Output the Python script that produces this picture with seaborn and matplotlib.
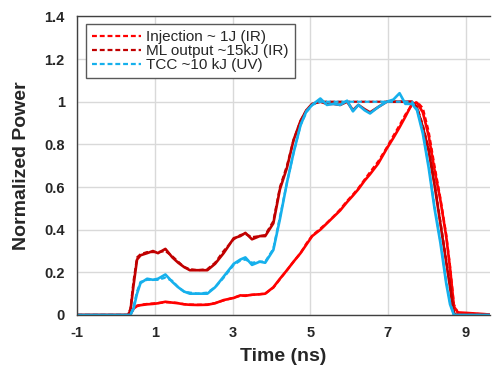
import matplotlib
matplotlib.use("Agg")
import matplotlib.pyplot as plt
import seaborn as sns

# shared time grid (ns)
time_ns = [-1, 0.3, 0.37, 0.45, 0.54, 0.63, 0.8, 0.95, 1.08, 1.27,
           1.45, 1.6, 1.75, 1.9, 2.1, 2.35, 2.55, 2.77, 3.03, 3.2,
           3.33, 3.5, 3.7, 3.84, 4.05, 4.22, 4.4, 4.57, 4.75, 4.9,
           5.05, 5.26, 5.43, 5.6, 5.77, 5.95, 6.1, 6.24, 6.4, 6.54,
           6.75, 6.97, 7.14, 7.3, 7.45, 7.62, 7.75, 7.9, 8.05, 8.2,
           8.35, 8.5, 8.6, 8.7, 8.8, 9.0, 9.5, 9.7]

# Injection ~ 1J (IR)
inj_meas = [0, 0, 0.005, 0.03, 0.042, 0.046, 0.05, 0.052, 0.055, 0.062,
            0.058, 0.055, 0.05, 0.048, 0.047, 0.048, 0.055, 0.07, 0.08, 0.092,
            0.09, 0.095, 0.097, 0.10, 0.13, 0.17, 0.21, 0.25, 0.29, 0.33,
            0.37, 0.40, 0.43, 0.46, 0.49, 0.53, 0.56, 0.59, 0.63, 0.66,
            0.71, 0.78, 0.83, 0.88, 0.93, 0.99, 0.995, 0.95, 0.84, 0.68,
            0.54, 0.37, 0.22, 0.04, 0.012, 0.01, 0.004, 0]
inj_sim = [0, 0, 0.004, 0.028, 0.044, 0.048, 0.052, 0.054, 0.056, 0.06,
           0.059, 0.056, 0.051, 0.049, 0.048, 0.049, 0.056, 0.068, 0.082, 0.09,
           0.092, 0.094, 0.098, 0.10, 0.128, 0.168, 0.21, 0.25, 0.29, 0.335,
           0.372, 0.405, 0.432, 0.462, 0.495, 0.535, 0.565, 0.595, 0.635, 0.67,
           0.72, 0.785, 0.84, 0.89, 0.94, 0.985, 1.0, 0.97, 0.86, 0.7,
           0.55, 0.38, 0.23, 0.05, 0.01, 0.008, 0.003, 0]

# ML output ~15kJ (IR)
ml_meas = [0, 0, 0.02, 0.14, 0.26, 0.28, 0.29, 0.30, 0.29, 0.31,
           0.27, 0.245, 0.225, 0.21, 0.21, 0.21, 0.24, 0.29, 0.36, 0.37,
           0.385, 0.355, 0.37, 0.37, 0.43, 0.59, 0.69, 0.82, 0.91, 0.96,
           0.99, 1.0, 0.99, 0.99, 0.985, 1.0, 0.96, 0.985, 0.965, 0.95,
           0.975, 1.0, 1.0, 1.0, 1.0, 1.0, 0.97, 0.88, 0.77, 0.61,
           0.43, 0.25, 0.13, 0.005, 0, 0, 0, 0]
ml_sim = [0, 0, 0.03, 0.16, 0.27, 0.285, 0.295, 0.295, 0.295, 0.3,
          0.275, 0.25, 0.225, 0.215, 0.21, 0.215, 0.245, 0.3, 0.355, 0.375,
          0.38, 0.365, 0.37, 0.375, 0.44, 0.6, 0.7, 0.82, 0.91, 0.96,
          0.99, 1.0, 1.0, 1.0, 1.0, 1.0, 1.0, 1.0, 1.0, 1.0,
          1.0, 1.0, 1.0, 1.0, 1.0, 1.0, 0.975, 0.89, 0.78, 0.62,
          0.44, 0.26, 0.14, 0.01, 0, 0, 0, 0]

# TCC ~10 kJ (UV)
tcc_meas = [0, 0, 0, 0.03, 0.10, 0.15, 0.17, 0.165, 0.17, 0.19,
            0.155, 0.13, 0.11, 0.10, 0.10, 0.10, 0.13, 0.18, 0.24, 0.26,
            0.27, 0.235, 0.25, 0.245, 0.305, 0.45, 0.62, 0.76, 0.89, 0.955,
            0.985, 1.015, 0.985, 0.99, 0.985, 1.005, 0.955, 0.985, 0.96, 0.945,
            0.975, 1.0, 1.01, 1.04, 0.99, 0.99, 0.96, 0.85, 0.69, 0.50,
            0.34, 0.15, 0.05, 0, 0, 0, 0, 0]
tcc_sim = [0, 0, 0, 0.04, 0.11, 0.155, 0.165, 0.165, 0.165, 0.175,
           0.16, 0.13, 0.11, 0.105, 0.1, 0.105, 0.13, 0.175, 0.235, 0.255,
           0.26, 0.245, 0.25, 0.25, 0.31, 0.46, 0.62, 0.76, 0.89, 0.95,
           0.985, 1.0, 1.0, 1.0, 1.0, 1.0, 1.0, 1.0, 1.0, 1.0,
           1.0, 1.0, 1.0, 1.0, 1.0, 1.0, 0.965, 0.86, 0.7, 0.51,
           0.35, 0.16, 0.06, 0, 0, 0, 0, 0]

labels = ["Injection ~ 1J (IR)", "ML output ~15kJ (IR)", "TCC ~10 kJ (UV)"]
colors = ["#FF0000", "#C00000", "#16B0EC"]
x_ticks = [-1, 1, 3, 5, 7, 9]
y_ticks = [0, 0.2, 0.4, 0.6, 0.8, 1.0, 1.2, 1.4]
y_tick_labels = ["0", "0.2", "0.4", "0.6", "0.8", "1", "1.2", "1.4"]

sns.set_style("whitegrid")
plt.rcParams["font.family"] = ["Liberation Sans", "DejaVu Sans"]
plt.rcParams["axes.unicode_minus"] = False

fig = plt.figure(figsize=(4.92, 3.65), dpi=100)
ax = fig.add_axes([0.157, 0.137, 0.839, 0.818])

series = [(inj_meas, inj_sim), (ml_meas, ml_sim), (tcc_meas, tcc_sim)]
for (meas, sim), lab, col in zip(series, labels, colors):
    sns.lineplot(x=time_ns, y=sim, ax=ax, color=col, linestyle=(0, (2.2, 1.3)),
                 linewidth=1.6, label=lab)
    sns.lineplot(x=time_ns, y=meas, ax=ax, color=col, linewidth=1.9)

ax.set_xlim(-1, 9.63)
ax.set_ylim(0, 1.4)
ax.set_xticks(x_ticks)
ax.set_yticks(y_ticks)
ax.set_yticklabels(y_tick_labels)
ax.tick_params(axis="y", length=0, labelsize=10.5, pad=9)
ax.tick_params(axis="x", length=0, labelsize=10.5, pad=8)
for t in ax.get_xticklabels() + ax.get_yticklabels():
    t.set_fontweight("bold")
ax.set_xlabel("Time (ns)", fontsize=14, fontweight="bold", labelpad=6)
ax.set_ylabel("Normalized Power", fontsize=14, fontweight="bold", labelpad=10)
ax.grid(color="#D9D9D9", linewidth=1)
for side in ["left", "bottom", "top"]:
    ax.spines[side].set_color("#404040")
    ax.spines[side].set_linewidth(1)
ax.spines["right"].set_visible(False)

# legend shows the dashed entries only
h, l = ax.get_legend_handles_labels()
leg = ax.legend(h[:3], l[:3], loc="upper left", bbox_to_anchor=(0.022, 0.975),
                borderaxespad=0, fontsize=11, handlelength=3.2, labelspacing=0.0,
                fancybox=False, framealpha=1, borderpad=0.4, handletextpad=0.3)
leg.get_frame().set_edgecolor("#595959")
leg.get_frame().set_linewidth(1)

fig.savefig("out.png", dpi=100)
